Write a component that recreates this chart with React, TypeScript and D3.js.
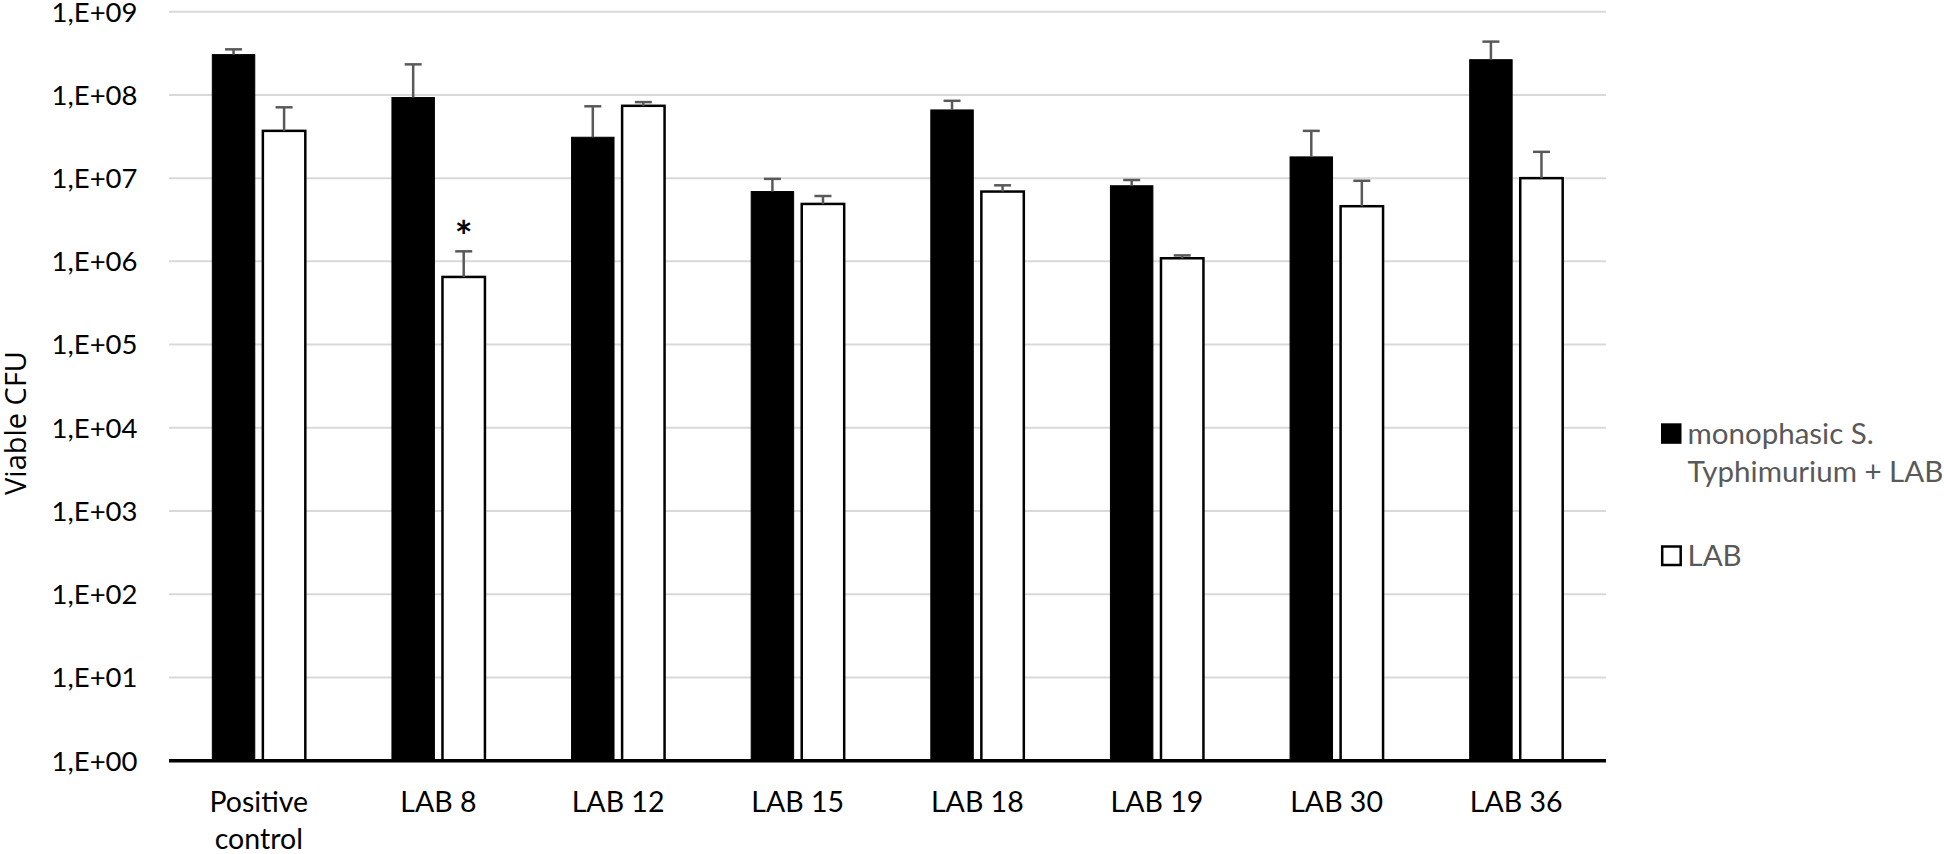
import React, { useRef, useEffect } from "react";
import * as d3 from "d3";

// chart data
const categories = [
  "Positive control",
  "LAB 8",
  "LAB 12",
  "LAB 15",
  "LAB 18",
  "LAB 19",
  "LAB 30",
  "LAB 36",
];
const seriesNames = ["monophasic S. Typhimurium + LAB", "LAB"];
const mixValues = [3.05e8, 9.3e7, 3.1e7, 6.9e6, 6.6e7, 8.1e6, 1.8e7, 2.65e8];
const mixErrors = [4.8e7, 1.4e8, 4.2e7, 2.9e6, 1.9e7, 1.4e6, 1.9e7, 1.72e8];
const labValues = [3.7e7, 6.5e5, 7.4e7, 4.9e6, 6.9e6, 1.09e6, 4.6e6, 1.0e7];
const labErrors = [3.4e7, 6.7e5, 8e6, 1.2e6, 1.3e6, 9e4, 4.7e6, 1.07e7];
const significant = ["LAB 8"]; // star on the LAB bar
const yTicks = [1, 1e1, 1e2, 1e3, 1e4, 1e5, 1e6, 1e7, 1e8, 1e9];

const App = () => {
  const container = useRef<SVGSVGElement | null>(null);

  const width = 1944;
  const height = 854;

  useEffect(() => {
    const svg = d3.select(container.current);
    svg.selectAll("*").remove();

    const left = 169;
    const right = 1606;
    const top = 11.7;
    const bottom = 760.7;

    const x0 = d3.scaleBand().domain(categories).range([left, right]).padding(0);
    const x1 = d3
      .scaleBand()
      .domain(seriesNames)
      .range([-46.5, 46.5])
      .paddingInner(0.16)
      .paddingOuter(0);
    const y = d3.scaleLog().domain([1, 1e9]).range([bottom, top]);

    const rows = categories.map((c, i) => ({
      cat: c,
      vals: [
        { key: seriesNames[0], v: mixValues[i], e: mixErrors[i] },
        { key: seriesNames[1], v: labValues[i], e: labErrors[i] },
      ],
    }));

    // gridlines
    svg
      .append("g")
      .selectAll("line")
      .data(yTicks.slice(1))
      .enter()
      .append("line")
      .attr("x1", left)
      .attr("x2", right)
      .attr("y1", (d) => y(d))
      .attr("y2", (d) => y(d))
      .attr("stroke", "#d9d9d9")
      .attr("stroke-width", 2);

    // y tick labels
    svg
      .append("g")
      .selectAll("text")
      .data(yTicks)
      .enter()
      .append("text")
      .attr("x", 137.5)
      .attr("y", (d) => y(d))
      .attr("dy", "0.36em")
      .attr("text-anchor", "end")
      .style("font-family", "Lato")
      .style("font-size", "27.5px")
      .style("fill", "#000")
      .text((d) => "1,E+" + d3.format("02d")(Math.round(Math.log10(d))));

    // bars
    const groups = svg
      .append("g")
      .selectAll("g")
      .data(rows)
      .enter()
      .append("g")
      .attr("transform", (d) => `translate(${x0(d.cat)! + x0.bandwidth() / 2},0)`);

    groups
      .selectAll("rect")
      .data((d) => d.vals)
      .enter()
      .append("rect")
      .attr("x", (d) => x1(d.key)!)
      .attr("y", (d) => y(d.v))
      .attr("width", x1.bandwidth())
      .attr("height", (d) => bottom - y(d.v))
      .attr("fill", (d, i) => (i === 0 ? "#000" : "#fff"))
      .attr("stroke", "#000")
      .attr("stroke-width", (d, i) => (i === 0 ? 1 : 2.5));

    // error bars (upper only)
    const err = groups
      .selectAll("g.err")
      .data((d) => d.vals)
      .enter()
      .append("g")
      .attr("class", "err")
      .attr("stroke", "#595959")
      .attr("stroke-width", 2.5);
    err
      .append("line")
      .attr("x1", (d) => x1(d.key)! + x1.bandwidth() / 2)
      .attr("x2", (d) => x1(d.key)! + x1.bandwidth() / 2)
      .attr("y1", (d) => y(d.v))
      .attr("y2", (d) => y(d.v + d.e));
    err
      .append("line")
      .attr("x1", (d) => x1(d.key)! + x1.bandwidth() / 2 - 8.5)
      .attr("x2", (d) => x1(d.key)! + x1.bandwidth() / 2 + 8.5)
      .attr("y1", (d) => y(d.v + d.e))
      .attr("y2", (d) => y(d.v + d.e));

    // significance star
    groups
      .filter((d) => significant.includes(d.cat))
      .append("text")
      .attr("x", x1(seriesNames[1])! + x1.bandwidth() / 2)
      .attr("y", (d) => y(d.vals[1].v + d.vals[1].e) + 1)
      .attr("text-anchor", "middle")
      .style("font-family", "Lato")
      .style("font-weight", "bold")
      .style("font-size", "42px")
      .style("fill", "#000")
      .text("*");

    // x axis line
    svg
      .append("line")
      .attr("x1", left)
      .attr("x2", right)
      .attr("y1", bottom)
      .attr("y2", bottom)
      .attr("stroke", "#000")
      .attr("stroke-width", 3.5);

    // category labels
    const catText = svg
      .append("g")
      .selectAll("text")
      .data(categories)
      .enter()
      .append("text")
      .attr("text-anchor", "middle")
      .attr("y", 812)
      .style("font-family", "Lato")
      .style("font-size", "28.5px")
      .style("fill", "#000");
    catText
      .selectAll("tspan")
      .data((d) => (d === "Positive control" ? ["Positive", "control"] : [d]).map((t) => ({ t, c: d })))
      .enter()
      .append("tspan")
      .attr("x", (d) => x0(d.c)! + x0.bandwidth() / 2)
      .attr("dy", (d, i) => (i === 0 ? 0 : 37))
      .text((d) => d.t);

    // y axis title
    svg
      .append("text")
      .attr("transform", "translate(26,423) rotate(-90)")
      .attr("text-anchor", "middle")
      .style("font-family", "Open Sans")
      .style("font-size", "29px")
      .style("fill", "#000")
      .text("Viable CFU");

    // legend
    const legend = svg.append("g").attr("transform", "translate(1661,0)");
    legend
      .append("rect")
      .attr("x", 0)
      .attr("y", 423.3)
      .attr("width", 20.5)
      .attr("height", 20.5)
      .attr("fill", "#000");
    legend
      .append("rect")
      .attr("x", 1.2)
      .attr("y", 546.5)
      .attr("width", 18.5)
      .attr("height", 18.5)
      .attr("fill", "#fff")
      .attr("stroke", "#000")
      .attr("stroke-width", 2.5);
    const lt = legend
      .append("text")
      .attr("y", 444)
      .style("font-family", "Lato")
      .style("font-size", "29.5px")
      .style("fill", "#595959");
    lt.append("tspan").attr("x", 26.5).text("monophasic S.");
    lt.append("tspan").attr("x", 26.5).attr("dy", 38.4).text("Typhimurium + LAB");
    legend
      .append("text")
      .attr("x", 26.5)
      .attr("y", 566)
      .style("font-family", "Lato")
      .style("font-size", "29.5px")
      .style("fill", "#595959")
      .text(seriesNames[1]);
  }, []);

  return (
    <svg
      ref={container}
      width={width}
      height={height}
      style={{ position: "absolute", left: 0, top: 0, background: "#fff" }}
    />
  );
};

export default App;
